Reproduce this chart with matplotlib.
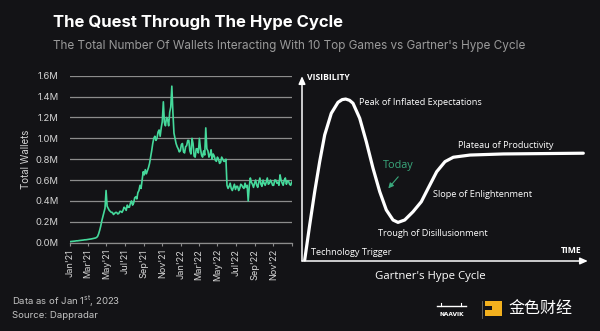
import matplotlib
matplotlib.use("Agg")
import matplotlib.pyplot as plt
from matplotlib.ticker import FuncFormatter
from matplotlib.patches import Rectangle
import pandas as pd

# ---- data -------------------------------------------------------------
# total wallets (millions), sampled twice a week, Jan 2021 - Dec 2022
wallets_m = [
    0.010, 0.011, 0.012, 0.013, 0.015, 0.016, 0.018, 0.018, 0.020, 0.021,
    0.022, 0.023, 0.025, 0.026, 0.028, 0.028, 0.030, 0.031, 0.033, 0.034,
    0.036, 0.038, 0.040, 0.042, 0.045, 0.050, 0.060, 0.085, 0.120, 0.160,
    0.210, 0.250, 0.290, 0.330, 0.500, 0.350, 0.330, 0.310, 0.300, 0.290,
    0.290, 0.270, 0.280, 0.290, 0.290, 0.275, 0.280, 0.300, 0.300, 0.290,
    0.310, 0.340, 0.330, 0.310, 0.360, 0.340, 0.340, 0.380, 0.400, 0.360,
    0.380, 0.430, 0.440, 0.420, 0.480, 0.500, 0.550, 0.520, 0.600, 0.680,
    0.650, 0.700, 0.660, 0.690, 0.720, 0.760, 0.820, 0.880, 0.950, 1.000,
    1.020, 0.980, 1.000, 1.060, 1.080, 1.020, 1.100, 1.160, 1.350, 1.150,
    1.120, 1.200, 1.180, 1.120, 1.250, 1.300, 1.500, 1.250, 1.050, 1.000,
    0.950, 0.920, 0.900, 0.870, 0.880, 0.940, 0.950, 0.870, 0.860, 0.920,
    0.930, 0.980, 0.980, 0.880, 0.850, 1.000, 0.950, 0.830, 0.820, 0.900,
    0.900, 0.860, 1.000, 0.900, 0.840, 0.820, 0.880, 0.840, 1.100, 0.900,
    0.880, 0.820, 0.840, 0.890, 0.800, 0.850, 0.830, 0.790, 0.780, 0.820,
    0.800, 0.760, 0.770, 0.820, 0.800, 0.780, 0.780, 0.800, 0.550, 0.520,
    0.540, 0.570, 0.520, 0.500, 0.530, 0.560, 0.510, 0.540, 0.540, 0.500,
    0.520, 0.560, 0.550, 0.530, 0.520, 0.570, 0.530, 0.550, 0.400, 0.540,
    0.620, 0.580, 0.560, 0.530, 0.570, 0.600, 0.550, 0.530, 0.580, 0.620,
    0.560, 0.540, 0.600, 0.570, 0.550, 0.580, 0.620, 0.560, 0.570, 0.600,
    0.580, 0.550, 0.550, 0.600, 0.600, 0.570, 0.580, 0.550, 0.650, 0.600,
    0.570, 0.550, 0.600, 0.620, 0.560, 0.590, 0.590, 0.560, 0.550, 0.580,
]
dates = pd.date_range("2021-01-01", "2022-12-31", periods=len(wallets_m))
tick_months = pd.date_range("2021-01-01", "2022-11-01", freq="2MS")
tick_labels = [d.strftime("%b'%y") for d in tick_months]
y_ticks = [0.0, 0.2, 0.4, 0.6, 0.8, 1.0, 1.2, 1.4, 1.6]

# Gartner hype cycle outline (time, visibility on a 0-100 scale)
hype_time = [0.95, 2.72, 4.49, 6.25, 8.02, 10.35, 12.72, 14.2, 15.44, 16.8,
             18.02, 20.39, 22.72, 25.09, 27.46, 29.79, 32.16, 33.92, 36.29,
             39.22, 42.16, 44.63, 47.6, 50.53, 53.46, 59.36, 71.13, 99.4]
hype_vis = [0.55, 19.7, 37.9, 54.3, 68.9, 80.7, 86.7, 88.2, 88.5, 87.8,
            86.2, 78.0, 65.2, 50.7, 37.9, 27.9, 22.4, 21.1, 22.4,
            26.9, 32.4, 39.9, 48.8, 54.3, 56.7, 57.9, 58.5, 58.9]
hype_labels = [
    ("Peak of Inflated Expectations", 20.2, 86.7),
    ("Plateau of Productivity", 55.0, 63.0),
    ("Slope of Enlightenment", 46.4, 36.6),
    ("Trough of Disillusionment", 26.9, 14.8),
    ("Technology Trigger", 3.2, 4.8),
]

# ---- style ------------------------------------------------------------
BG = "#131316"
GREEN = "#45d99b"
GRID = "#8c8c8c"
LABEL = "#d4d4d4"

fig = plt.figure(figsize=(6.0, 3.31), dpi=100, facecolor=BG)

fig.text(53 / 600, 1 - 22.5 / 331, "The Quest Through The Hype Cycle",
         family="Inter", weight="bold", fontsize=12.0, color="white",
         va="center", ha="left")
fig.text(53 / 600, 1 - 45.5 / 331,
         "The Total Number Of Wallets Interacting With 10 Top Games vs Gartner's Hype Cycle",
         family="Inter", fontsize=8.45, color="#9a9a9a", va="center", ha="left")

# ---- left: wallets time series -----------------------------------------
ax = fig.add_axes([70 / 600, 88.3 / 331, 222 / 600, 167 / 331])
ax.set_facecolor(BG)
ax.plot(dates, wallets_m, color=GREEN, lw=1.2, solid_joinstyle="round")
ax.set_xlim(pd.Timestamp("2021-01-01"), pd.Timestamp("2023-01-01"))
ax.set_ylim(0, 1.6)
ax.set_yticks(y_ticks)
ax.yaxis.set_major_formatter(FuncFormatter(lambda v, p: f"{v:.1f}M"))
ax.set_xticks(list(tick_months) + [pd.Timestamp("2023-01-01")])
ax.set_xticklabels(tick_labels + [""], rotation=90)
ax.grid(axis="y", color=GRID, lw=0.9)
ax.set_axisbelow(True)
for s in ["top", "right", "left"]:
    ax.spines[s].set_visible(False)
ax.spines["bottom"].set_color(GRID)
ax.spines["bottom"].set_linewidth(0.9)
ax.tick_params(axis="y", length=0, pad=8, labelsize=6.8, labelcolor=LABEL)
ax.tick_params(axis="x", length=2.5, width=0.8, color=GRID, pad=2,
               labelsize=6.6, labelcolor=LABEL)
for lab in ax.get_xticklabels() + ax.get_yticklabels():
    lab.set_family("Inter")
ax.set_ylabel("Total Wallets", family="Inter", fontsize=7, color=LABEL,
              labelpad=3)

# ---- right: hype cycle diagram -----------------------------------------
hx = fig.add_axes([302 / 600, 70 / 331, 283 / 600, 183 / 331])
hx.set_facecolor(BG)
hx.set_xlim(0, 100)
hx.set_ylim(0, 100)
hx.axis("off")
hx.plot(hype_time, hype_vis, color="white", lw=2.3, solid_capstyle="round",
        solid_joinstyle="round", clip_on=False)
arrow = dict(arrowstyle="-|>,head_length=0.45,head_width=0.2", color="white",
             lw=1.1, shrinkA=0, shrinkB=0)
hx.annotate("", xy=(0, 101), xytext=(0, 0), arrowprops=arrow,
            annotation_clip=False)
hx.annotate("", xy=(101, 0), xytext=(0, 0), arrowprops=arrow,
            annotation_clip=False)
hx.text(1.6, 100, "VISIBILITY", family="Open Sans", weight="bold",
        fontsize=6.2, color="white", va="center", ha="left", clip_on=False)
hx.text(91.5, 5.6, "TIME", family="Open Sans", weight="bold", fontsize=6.2,
        color="white", va="center", ha="left")
for txt, tx, ty in hype_labels:
    hx.text(tx, ty, txt, family="Open Sans", fontsize=6.6, color="white",
            va="center", ha="left")
hx.text(28.7, 52.2, "Today", family="Open Sans", fontsize=7.8,
        color="#3aa87c", va="center", ha="left")
hx.annotate("", xy=(30.5, 39.7), xytext=(34.0, 46.0),
            arrowprops=dict(arrowstyle="-|>,head_length=0.3,head_width=0.15",
                            color="#3aa87c", lw=0.8, shrinkA=0, shrinkB=0))
hx.text(45.5, -8.2, "Gartner's Hype Cycle", family="Open Sans", fontsize=8.2,
        color="white", va="center", ha="center", clip_on=False)

# ---- footer -----------------------------------------------------------
fig.text(12 / 600, 1 - 301 / 331, "Data as of Jan 1$^{\\mathregular{st}}$, 2023",
         family="Inter", fontsize=6.9, color="#c4c4c4", va="center")
fig.text(12 / 600, 1 - 315.5 / 331, "Source: Dappradar", family="Inter",
         fontsize=6.9, color="#c4c4c4", va="center")

# logos
fig.text(451.5 / 600, 1 - 315 / 331, "NAAVIK", family="DejaVu Sans",
         fontsize=4.2, color="white", ha="center", va="center", weight="bold")
fig.add_artist(plt.Line2D([437 / 600, 466 / 600], [1 - 306 / 331, 1 - 306 / 331],
                          color="white", lw=1.0))
fig.add_artist(plt.Line2D([441 / 600, 441 / 600], [1 - 306 / 331, 1 - 302.5 / 331],
                          color="white", lw=0.8))
fig.add_artist(plt.Line2D([461 / 600, 461 / 600], [1 - 306 / 331, 1 - 303 / 331],
                          color="white", lw=0.8))
fig.add_artist(plt.Line2D([481.5 / 600, 481.5 / 600], [1 - 301 / 331, 1 - 318 / 331],
                          color="#6a6a6a", lw=0.6))
fig.add_artist(Rectangle((485 / 600, 1 - 316 / 331), 17 / 600, 15 / 331,
                         transform=fig.transFigure, facecolor="#f2b01e",
                         edgecolor="none"))
fig.add_artist(Rectangle((485 / 600, 1 - 310 / 331), 7 / 600, 4 / 331,
                         transform=fig.transFigure, facecolor=BG,
                         edgecolor="none"))
fig.text(508 / 600, 1 - 308.5 / 331, "金色财经", family="Noto Sans CJK SC",
         fontsize=11.5, color="white", ha="left", va="center")

fig.savefig("out.png", dpi=100, facecolor=BG)
